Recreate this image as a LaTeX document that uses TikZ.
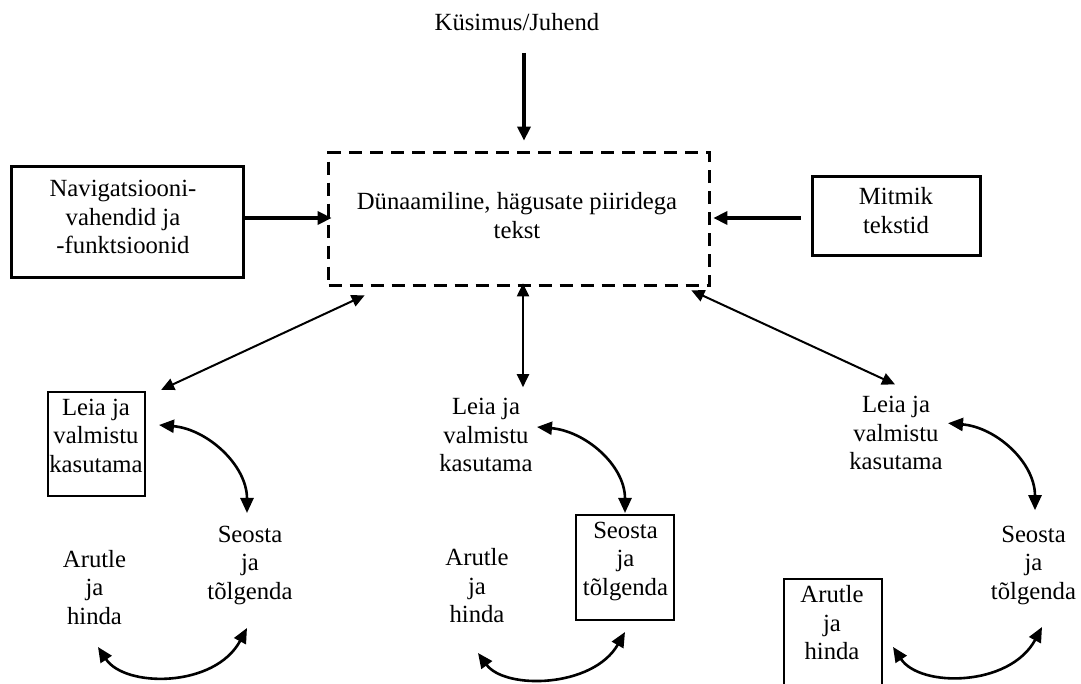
\documentclass[tikz,border=0pt]{standalone}
\usepackage{fontspec}
\setmainfont{Liberation Serif}
\usetikzlibrary{arrows.meta,calc}
\tikzset{
  txt/.style={font=\fontsize{24.7}{28.5}\selectfont, align=center, inner sep=0pt, outer sep=0pt},
  thickbox/.style={draw, line width=3.3pt, inner sep=0pt, outer sep=0pt},
  thinbox/.style={draw, line width=1.6pt, inner sep=0pt, outer sep=0pt},
  dashbox/.style={draw, line width=3.3pt, dash pattern=on 13pt off 8pt, inner sep=0pt, outer sep=0pt},
  arrthick/.style={line width=3.3pt, -{Triangle[length=14pt,width=13pt]}},
  dbl/.style={line width=2pt, {Triangle[length=13pt,width=12pt]}-{Triangle[length=13pt,width=12pt]}},
  curv/.style={line width=2.6pt, {Triangle[length=15pt,width=13pt]}-{Triangle[length=15pt,width=13pt]}},
}
\begin{document}
\begin{tikzpicture}[x=1pt,y=1pt]
\useasboundingbox (0,0) rectangle (1081,683);
\clip (0,0) rectangle (1081,683);

% top part
\node[txt, anchor=base] (kus) at (517,652) {Küsimus/Juhend};
\node[dashbox, minimum width=380.7pt, minimum height=132.7pt] (dyn) at (519,464) {};
\node[txt] (dyntxt) at (517,467.5) {Dünaamiline, hägusate piiridega\\tekst};
\node[thickbox, minimum width=231.8pt, minimum height=110.8pt] (nav) at (127.5,461) {};
\node[txt] (navtxt) at (123,466) {Navigatsiooni-\\vahendid ja\\-funktsioonid};
\node[thickbox, minimum width=167.7pt, minimum height=78.7pt] (mit) at (896.5,467) {};
\node[txt] (mittxt) at (896,472.5) {Mitmik\\tekstid};

% left group
\node[thinbox, minimum width=97.4pt, minimum height=104.4pt] (boxL) at (96.5,239) {};
\node[txt] (leiaL) at (96,247.5) {Leia ja\\valmistu\\kasutama};
\node[txt] (seostaL) at (250,117.7) {Seosta\\ja\\tõlgenda};
\node[txt] (arutleL) at (94.5,95.5) {Arutle\\ja\\hinda};

% middle group
\node[txt] (leiaM) at (486,248) {Leia ja\\valmistu\\kasutama};
\node[thinbox, minimum width=98.4pt, minimum height=105.4pt] (boxM) at (625,115.5) {};
\node[txt] (seostaM) at (625.5,121.8) {Seosta\\ja\\tõlgenda};
\node[txt] (arutleM) at (477,97) {Arutle\\ja\\hinda};

% right group
\node[txt] (leiaR) at (896,249.8) {Leia ja\\valmistu\\kasutama};
\node[txt] (seostaR) at (1033.5,117.8) {Seosta\\ja\\tõlgenda};
\node[thinbox, minimum width=98.4pt, minimum height=114.2pt] (boxR) at (833,47.1) {};
\node[txt] (arutleR) at (832,60.1) {Arutle\\ja\\hinda};

% straight arrows
\draw[arrthick] ($(kus.base)+(7,-22)$) -- ($(dyn.north)+(5,12)$);
\draw[arrthick] ($(nav.east)+(2,4)$) -- ($(dyn.west)+(3,1)$);
\draw[arrthick] ($(mit.west)+(-12,-2)$) -- ($(dyn.east)+(4,1)$);

% double arrows
\draw[dbl] ($(dyn.south west)+(36,-10)$) -- ($(boxL.north east)+(16,2)$);
\draw[dbl] ($(dyn.south)+(4,2)$) -- ($(leiaM.north)+(37,11)$);
\draw[dbl] ($(dyn.south east)+(-18,-5)$) -- ($(leiaR.north)+(-1,12)$);

% curved arrows
\draw[curv] ($(leiaL)+(63,10.5)$) .. controls +(48,-4) and +(0,48) .. ($(seostaL)+(-3,52.3)$);
\draw[curv] ($(arutleL)+(3.5,-59.5)$) .. controls +(27,-41) and +(-32,-60) .. ($(seostaL)+(-3,-62.7)$);

\draw[curv] ($(leiaM)+(51,8)$) .. controls +(48,-4) and +(0,48) .. ($(seostaM)+(-0.5,48.2)$);
\draw[curv] ($(arutleM)+(1,-67)$) .. controls +(27,-37) and +(-32,-56) .. ($(seostaM)+(-0.5,-70.8)$);

\draw[curv] ($(leiaR)+(52,10)$) .. controls +(48,-4) and +(0,48) .. ($(seostaR)+(1.5,55)$);
\draw[curv] ($(arutleR)+(61,-24)$) .. controls +(27,-41) and +(-32,-60) .. ($(seostaR)+(8.5,-61.8)$);
\end{tikzpicture}
\end{document}
